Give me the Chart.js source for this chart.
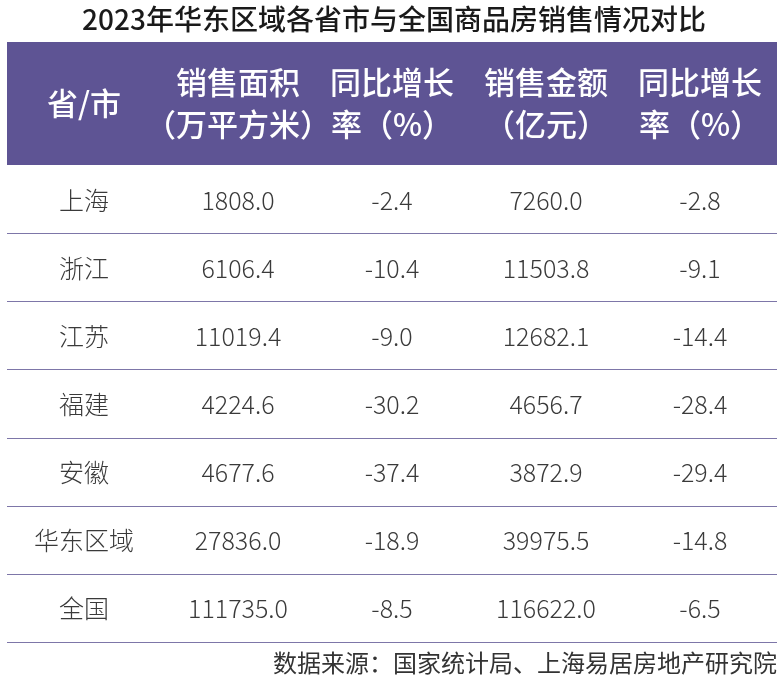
<!DOCTYPE html>
<html><head><meta charset="utf-8">
<script src="https://cdn.jsdelivr.net/npm/chart.js@4/dist/chart.umd.min.js"></script>
<style>html,body{margin:0;padding:0;background:#fff}#c{display:block}</style>
</head><body>
<canvas id="c" width="784" height="682"></canvas>
<script>
const title = "2023年华东区域各省市与全国商品房销售情况对比";
const source = "数据来源：国家统计局、上海易居房地产研究院";
const headers = [["省/市"], ["销售面积", "（万平方米）"], ["同比增长", "率（%）"], ["销售金额", "（亿元）"], ["同比增长", "率（%）"]];
const regions = ["上海", "浙江", "江苏", "福建", "安徽", "华东区域", "全国"];
const salesArea = ["1808.0", "6106.4", "11019.4", "4224.6", "4677.6", "27836.0", "111735.0"];
const areaGrowth = ["-2.4", "-10.4", "-9.0", "-30.2", "-37.4", "-18.9", "-8.5"];
const salesAmount = ["7260.0", "11503.8", "12682.1", "4656.7", "3872.9", "39975.5", "116622.0"];
const amountGrowth = ["-2.8", "-9.1", "-14.4", "-28.4", "-29.4", "-14.8", "-6.5"];
const columns = [regions, salesArea, areaGrowth, salesAmount, amountGrowth];
const colKeys = ["c0","c1","c2","c3","c4"];
const FONT = '"Noto Sans CJK SC","Noto Sans",sans-serif';

const tablePlugin = {
  id: 'table',
  afterDraw(chart) {
    const ctx = chart.ctx, xs = chart.scales.x, ys = chart.scales.y, a = chart.chartArea;
    ctx.save();
    ctx.fillStyle = '#1a1a1a'; ctx.font = '500 28px ' + FONT; ctx.textAlign = 'center'; ctx.textBaseline = 'middle';
    ctx.fillText(title, 394, 19);
    const hTop = 42;
    ctx.fillStyle = '#5e5494';
    ctx.fillRect(a.left, hTop, a.right - a.left, a.top - hTop);
    ctx.fillStyle = '#fff'; ctx.font = '500 31px ' + FONT;
    headers.forEach((h, i) => {
      const x = xs.getPixelForValue(i);
      const mid = (hTop + a.top) / 2;
      if (h.length === 1) ctx.fillText(h[0], x, mid);
      else { ctx.fillText(h[0], x, mid - 21); ctx.fillText(h[1], x, mid + 21); }
    });
    ctx.font = '300 25px ' + FONT; ctx.fillStyle = '#3a3a3a';
    const step = (a.bottom - a.top) / regions.length;
    regions.forEach((r, ri) => {
      const y = ys.getPixelForValue(ri);
      columns.forEach((col, ci) => ctx.fillText(col[ri], xs.getPixelForValue(ci), y + 1));
      ctx.strokeStyle = '#7d76a8'; ctx.lineWidth = 1.2;
      ctx.beginPath(); const ly = Math.round(y + step / 2) + 0.5;
      ctx.moveTo(a.left, ly); ctx.lineTo(a.right, ly); ctx.stroke();
    });
    ctx.textAlign = 'right'; ctx.font = '24px ' + FONT; ctx.fillStyle = '#333';
    ctx.fillText(source, 777, 663);
    ctx.restore();
  }
};

new Chart(document.getElementById('c'), {
  type: 'bar',
  data: { labels: colKeys, datasets: [{ data: [] }] },
  options: {
    responsive: false, animation: false,
    layout: { padding: { left: 7, right: 7, top: 165, bottom: 40 } },
    plugins: { legend: { display: false }, tooltip: { enabled: false } },
    scales: {
      x: { type: 'category', labels: colKeys, offset: true, display: false },
      y: { type: 'category', labels: regions, offset: true, display: false }
    }
  },
  plugins: [tablePlugin]
});
</script>
</body></html>
